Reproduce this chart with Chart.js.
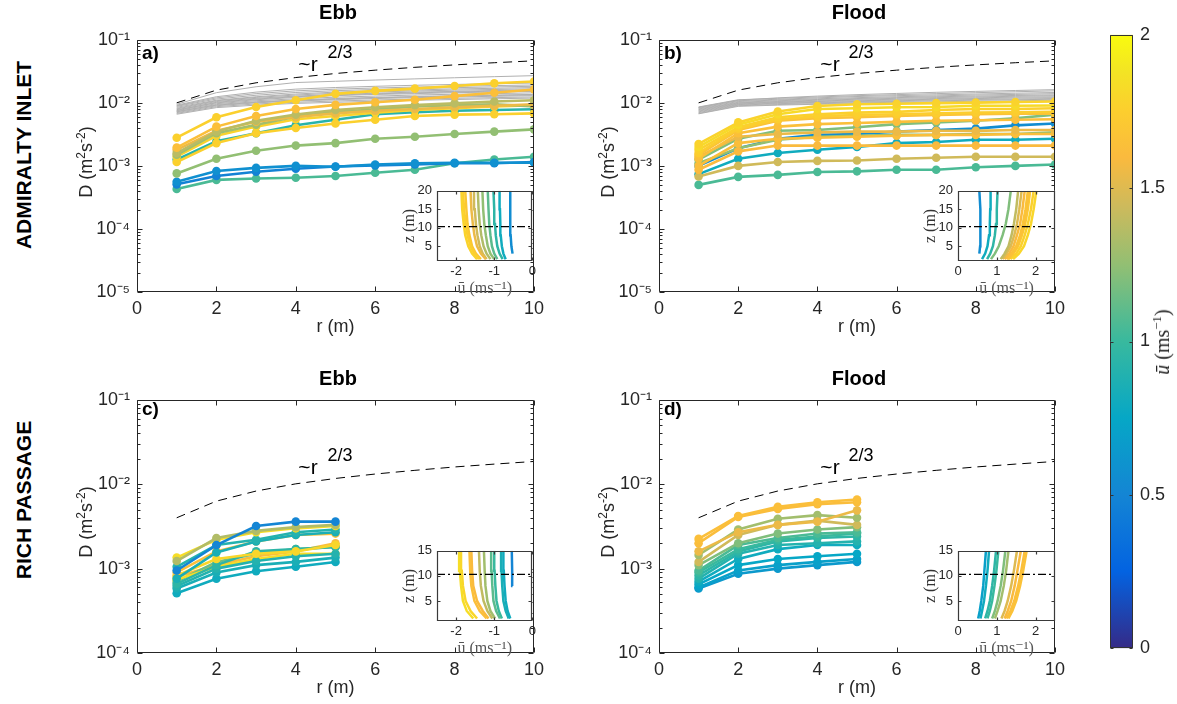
<!DOCTYPE html>
<html><head><meta charset="utf-8">
<script src="https://cdn.jsdelivr.net/npm/chart.js@4.4.1/dist/chart.umd.min.js"></script>
<style>
body{margin:0;background:#fff;width:1177px;height:704px;position:relative;overflow:hidden;font-family:'Liberation Sans',Arial,Helvetica,sans-serif;color:#000}
canvas{position:absolute}
.t{position:absolute;transform:translate(-50%,-50%);white-space:nowrap;line-height:1}
.b{font-weight:bold}
.rot{transform:translate(-50%,-50%) rotate(-90deg)}
.pl{position:absolute;transform:translateY(-50%);font-weight:bold;font-size:19px;line-height:1}
sup{font-size:12px;vertical-align:7px;line-height:0}
.yt{font-size:18px;color:#262626}
.cb sup{font-size:13px;vertical-align:8px}
</style></head><body>
<canvas id="cA" width="479" height="320" style="left:71px;top:22px"></canvas>
<canvas id="cB" width="478" height="320" style="left:593px;top:22px"></canvas>
<canvas id="cC" width="479" height="321" style="left:71px;top:382px"></canvas>
<canvas id="cD" width="478" height="321" style="left:593px;top:382px"></canvas>
<canvas id="iA" width="139" height="120" style="left:400px;top:178px"></canvas>
<canvas id="iB" width="140" height="120" style="left:921px;top:178px"></canvas>
<canvas id="iC" width="139" height="120" style="left:400px;top:538px"></canvas>
<canvas id="iD" width="140" height="120" style="left:921px;top:538px"></canvas>
<canvas id="cbar" width="77" height="649" style="left:1100px;top:17px"></canvas>

<div class="t b" style="left:338px;top:12px;font-size:20px">Ebb</div>
<div class="t b" style="left:859px;top:12px;font-size:20px">Flood</div>
<div class="t b" style="left:338px;top:378px;font-size:20px">Ebb</div>
<div class="t b" style="left:859px;top:378px;font-size:20px">Flood</div>
<div class="t b rot" style="left:23px;top:155px;font-size:21px">ADMIRALTY INLET</div>
<div class="t b rot" style="left:23px;top:500px;font-size:21px">RICH PASSAGE</div>
<div class="t rot yt" style="left:86px;top:162px">D (m<sup>2</sup>s<sup>-2</sup>)</div>
<div class="t rot yt" style="left:608px;top:162px">D (m<sup>2</sup>s<sup>-2</sup>)</div>
<div class="t rot yt" style="left:86px;top:522px">D (m<sup>2</sup>s<sup>-2</sup>)</div>
<div class="t rot yt" style="left:608px;top:522px">D (m<sup>2</sup>s<sup>-2</sup>)</div>
<div class="pl" style="left:142px;top:52px">a)</div>
<div class="pl" style="left:664px;top:52px">b)</div>
<div class="pl" style="left:142px;top:408px">c)</div>
<div class="pl" style="left:664px;top:408px">d)</div>
<div class="t" style="left:308px;top:63px;font-size:21px">~r</div>
<div class="t" style="left:340px;top:52px;font-size:18px">2/3</div>
<div class="t" style="left:830px;top:63px;font-size:21px">~r</div>
<div class="t" style="left:861px;top:52px;font-size:18px">2/3</div>
<div class="t" style="left:308px;top:466px;font-size:21px">~r</div>
<div class="t" style="left:340px;top:455px;font-size:18px">2/3</div>
<div class="t" style="left:830px;top:466px;font-size:21px">~r</div>
<div class="t" style="left:861px;top:455px;font-size:18px">2/3</div>
<div class="t rot cb" style="left:1162px;top:342px;font-size:20px;font-family:'Liberation Serif','DejaVu Serif',serif;color:#262626"><i>ū</i> (ms<sup>−1</sup>)</div>

<script>
// ---------- data ----------
const R_ADM = [1,2,3,4,5,6,7,8,9,10];
const R_RICH = [1,2,3,4,5];
const REF_ADM = [0.0100,0.0159,0.0208,0.0252,0.0292,0.0330,0.0366,0.0400,0.0433,0.0464];
const REF_RICH = [0.0040,0.0063,0.0083,0.0101,0.0117,0.0132,0.0146,0.0160,0.0173,0.0186];

const Y_TICKS_ADM = [1e-5,1e-4,1e-3,1e-2,1e-1];
const Y_LABELS_ADM = ['10⁻⁵','10⁻⁴','10⁻³','10⁻²','10⁻¹'];
const Y_TICKS_RICH = [1e-4,1e-3,1e-2,1e-1];
const Y_LABELS_RICH = ['10⁻⁴','10⁻³','10⁻²','10⁻¹'];

// gray lines (Admiralty, ebb)
const GRAY_A = [
 [0.0095,0.0145,0.0180,0.0210,0.0220,0.0230,0.0240,0.0250,0.0260,0.0270],
 [0.0092,0.0125,0.0148,0.0165,0.0175,0.0183,0.0190,0.0196,0.0201,0.0206],
 [0.0090,0.0120,0.0140,0.0155,0.0165,0.0172,0.0178,0.0183,0.0188,0.0192],
 [0.0088,0.0115,0.0132,0.0146,0.0156,0.0163,0.0169,0.0174,0.0179,0.0183],
 [0.0085,0.0110,0.0125,0.0138,0.0148,0.0155,0.0160,0.0166,0.0170,0.0175],
 [0.0082,0.0108,0.0122,0.0133,0.0142,0.0149,0.0154,0.0159,0.0163,0.0167],
 [0.0080,0.0105,0.0118,0.0128,0.0136,0.0142,0.0148,0.0152,0.0157,0.0160],
 [0.0078,0.0100,0.0112,0.0122,0.0130,0.0136,0.0140,0.0145,0.0148,0.0152],
 [0.0076,0.0102,0.0115,0.0125,0.0133,0.0139,0.0144,0.0149,0.0153,0.0156],
 [0.0075,0.0097,0.0108,0.0116,0.0123,0.0128,0.0133,0.0137,0.0140,0.0144],
 [0.0073,0.0092,0.0102,0.0109,0.0115,0.0120,0.0124,0.0128,0.0131,0.0134],
 [0.0072,0.0094,0.0104,0.0111,0.0117,0.0122,0.0126,0.0130,0.0133,0.0136],
 [0.0070,0.0090,0.0100,0.0107,0.0112,0.0117,0.0121,0.0124,0.0127,0.0130],
 [0.0068,0.0087,0.0096,0.0102,0.0107,0.0111,0.0115,0.0118,0.0121,0.0124],
 [0.0066,0.0084,0.0092,0.0098,0.0102,0.0106,0.0110,0.0113,0.0116,0.0119]
];
// gray lines (Admiralty, flood)
const GRAY_B = [
 [0.0086,0.0112,0.0118,0.0124,0.0130,0.0135,0.0140,0.0145,0.0150,0.0155],
 [0.0085,0.0110,0.0120,0.0128,0.0135,0.0141,0.0147,0.0152,0.0157,0.0162],
 [0.0084,0.0108,0.0114,0.0120,0.0126,0.0130,0.0134,0.0138,0.0142,0.0146],
 [0.0082,0.0105,0.0111,0.0116,0.0121,0.0125,0.0129,0.0133,0.0136,0.0140],
 [0.0080,0.0102,0.0108,0.0113,0.0117,0.0121,0.0125,0.0128,0.0131,0.0134],
 [0.0078,0.0100,0.0105,0.0110,0.0114,0.0118,0.0121,0.0124,0.0127,0.0130],
 [0.0076,0.0098,0.0103,0.0107,0.0111,0.0114,0.0117,0.0120,0.0123,0.0125],
 [0.0074,0.0096,0.0101,0.0105,0.0108,0.0111,0.0114,0.0117,0.0119,0.0121],
 [0.0072,0.0094,0.0099,0.0102,0.0105,0.0108,0.0111,0.0113,0.0115,0.0117],
 [0.0070,0.0092,0.0097,0.0100,0.0103,0.0105,0.0108,0.0110,0.0112,0.0114],
 [0.0068,0.0090,0.0094,0.0097,0.0100,0.0102,0.0104,0.0106,0.0108,0.0110],
 [0.0067,0.0088,0.0092,0.0095,0.0097,0.0099,0.0101,0.0102,0.0104,0.0106]
];

// coloured structure-function curves
const ADM_EBB = [
 [0.0028,0.0059,0.0086,0.0110,0.0139,0.0155,0.0168,0.0185,0.0204,0.0218],
 [0.00195,0.0042,0.0062,0.0080,0.0093,0.0102,0.0112,0.0128,0.0145,0.0163],
 [0.0016,0.0035,0.0052,0.0065,0.0077,0.0085,0.0092,0.0098,0.0105,0.0110],
 [0.0018,0.0036,0.0050,0.0060,0.0068,0.0075,0.0080,0.0085,0.0090,0.0095],
 [0.0015,0.0033,0.0045,0.0060,0.0072,0.0078,0.0088,0.0092,0.0095,0.0088],
 [0.0014,0.0030,0.0042,0.0055,0.0062,0.0070,0.0077,0.0082,0.0088,0.0092],
 [0.00115,0.0023,0.0033,0.0040,0.0047,0.0054,0.0062,0.0065,0.0066,0.0068],
 [0.00126,0.00245,0.0033,0.0044,0.0054,0.0066,0.0071,0.0075,0.0077,0.0079],
 [0.00076,0.0013,0.00174,0.0021,0.0023,0.0027,0.0029,0.0032,0.0035,0.0038],
 [0.00056,0.00083,0.00093,0.0010,0.00097,0.00105,0.0011,0.00112,0.00112,0.00112],
 [0.00051,0.00069,0.00081,0.0009,0.00098,0.00102,0.00105,0.0011,0.0011,0.00115],
 [0.00043,0.0006,0.00063,0.00065,0.00069,0.00078,0.00087,0.0011,0.00126,0.0014]
];
const ADM_EBB_SPEED = [1.76,1.64,1.38,1.55,1.3,1.78,1.76,0.92,1.25,0.58,0.48,1.05];

const ADM_FLOOD = [
 [0.00223,0.0049,0.0073,0.0089,0.0095,0.0097,0.0099,0.0101,0.0103,0.0105],
 [0.0020,0.0045,0.0066,0.0080,0.0082,0.0085,0.0086,0.0090,0.0090,0.0091],
 [0.0018,0.0041,0.0059,0.0066,0.0070,0.0072,0.0077,0.0080,0.0080,0.0082],
 [0.0016,0.0039,0.0055,0.0061,0.0064,0.0066,0.0068,0.0070,0.0071,0.0072],
 [0.0015,0.0037,0.0052,0.0057,0.0059,0.0062,0.0064,0.0066,0.0067,0.0067],
 [0.0013,0.0033,0.0042,0.0046,0.0048,0.0050,0.0052,0.0053,0.0054,0.0055],
 [0.0014,0.0029,0.0032,0.0034,0.0035,0.0035,0.0036,0.0036,0.0037,0.0037],
 [0.0010,0.0023,0.0027,0.0028,0.0029,0.0030,0.0031,0.0031,0.0032,0.0032],
 [0.00087,0.0017,0.0021,0.0021,0.0021,0.0021,0.0021,0.0021,0.0021,0.0021],
 [0.00068,0.0010,0.00115,0.0012,0.00122,0.0013,0.00135,0.0014,0.0014,0.0014],
 [0.00126,0.0027,0.0036,0.0037,0.0041,0.0046,0.0049,0.0052,0.0057,0.0065],
 [0.0011,0.0019,0.0026,0.0029,0.0030,0.0031,0.0031,0.0032,0.0032,0.0034],
 [0.0010,0.0019,0.0027,0.0031,0.0032,0.0035,0.0037,0.0039,0.0044,0.0047],
 [0.00074,0.0013,0.0016,0.0018,0.0020,0.0023,0.0024,0.0026,0.0026,0.0027],
 [0.0005,0.00067,0.00072,0.0008,0.00082,0.00087,0.00087,0.00095,0.0010,0.00105]
];
const ADM_FLOOD_SPEED = [1.78,1.82,1.76,1.74,1.66,1.64,1.55,1.63,1.6,1.45,1.2,1.25,0.55,0.8,1.05];

const RICH_EBB = [
 [0.00095,0.0019,0.0032,0.0036,0.0036],
 [0.00123,0.0023,0.0028,0.0031,0.0033],
 [0.00135,0.0022,0.0027,0.0030,0.0032],
 [0.00105,0.0019,0.0022,0.0027,0.0029],
 [0.00076,0.00155,0.0021,0.0025,0.0027],
 [0.0009,0.0016,0.0021,0.0025,0.0026],
 [0.00083,0.0013,0.0015,0.0016,0.0019],
 [0.00066,0.0011,0.0016,0.0017,0.0018],
 [0.00062,0.0010,0.00123,0.0014,0.0015],
 [0.00058,0.0009,0.0011,0.0012,0.00135],
 [0.00051,0.00076,0.00093,0.00105,0.0012],
 [0.00074,0.00105,0.0013,0.0015,0.0015],
 [0.0007,0.0012,0.0015,0.0017,0.0018],
 [0.0008,0.0011,0.0014,0.0016,0.0020]
];
const RICH_EBB_SPEED = [0.5,1.35,1.84,0.9,0.85,1.64,1.8,0.95,0.9,0.85,0.8,1.84,1.15,1.62];

const RICH_FLOOD = [
 [0.00225,0.0042,0.0054,0.0061,0.0066],
 [0.0020,0.0041,0.0051,0.0058,0.0061],
 [0.0016,0.0027,0.0033,0.0036,0.0049],
 [0.00145,0.0029,0.0039,0.0043,0.0040],
 [0.0012,0.0025,0.0033,0.0037,0.0033],
 [0.0011,0.0020,0.0026,0.0029,0.0031],
 [0.00095,0.0019,0.0023,0.0026,0.0027],
 [0.0009,0.0017,0.0022,0.0024,0.0026],
 [0.00083,0.0016,0.0021,0.0023,0.0024],
 [0.00076,0.0015,0.0019,0.0020,0.0021],
 [0.0007,0.0013,0.0017,0.0019,0.0019],
 [0.00065,0.0011,0.0013,0.0014,0.0015],
 [0.0006,0.00095,0.0011,0.0012,0.0013],
 [0.00058,0.00087,0.0010,0.0011,0.0012]
];
const RICH_FLOOD_SPEED = [1.64,1.62,1.55,1.3,1.45,1.2,1.05,1.0,0.95,0.9,0.8,0.75,0.7,0.65];

// inset velocity profiles
const Z_ADM = [1.5,3,5,8,11,15,20];
const Z_RICH = [1.5,3,5,8,11,15];
const HUB_Z = 10.3;
const PROF_ADM_EBB = [
 [-1.45,-1.58,-1.68,-1.76,-1.80,-1.84,-1.86],
 [-1.40,-1.52,-1.62,-1.70,-1.75,-1.79,-1.82],
 [-1.35,-1.48,-1.58,-1.65,-1.70,-1.73,-1.76],
 [-1.22,-1.35,-1.45,-1.52,-1.56,-1.60,-1.62],
 [-1.20,-1.30,-1.38,-1.44,-1.48,-1.51,-1.53],
 [-1.10,-1.20,-1.28,-1.34,-1.38,-1.41,-1.43],
 [-1.00,-1.10,-1.17,-1.22,-1.26,-1.29,-1.31],
 [-0.92,-1.00,-1.06,-1.10,-1.13,-1.15,-1.17],
 [-0.78,-0.86,-0.92,-0.96,-0.98,-1.00,-1.02],
 [-0.70,-0.76,-0.80,-0.83,-0.84,-0.85,-0.86],
 [null,-0.52,-0.55,-0.57,-0.58,-0.58,-0.58]
];
const PROF_ADM_EBB_SPEED = [1.78,1.75,1.7,1.55,1.45,1.35,1.25,1.1,0.95,0.8,0.55];
const PROF_ADM_FLOOD = [
 [null,0.55,0.57,0.58,0.58,0.57,0.55],
 [0.62,0.70,0.76,0.80,0.82,0.83,0.84],
 [0.75,0.83,0.90,0.95,0.98,1.00,1.02],
 [0.85,0.95,1.05,1.15,1.23,1.30,1.36],
 [1.10,1.20,1.30,1.38,1.44,1.50,1.55],
 [1.15,1.25,1.36,1.45,1.52,1.58,1.64],
 [1.20,1.32,1.43,1.52,1.60,1.66,1.72],
 [1.28,1.40,1.52,1.62,1.70,1.77,1.83],
 [1.25,1.38,1.50,1.60,1.67,1.74,1.80],
 [1.30,1.43,1.55,1.65,1.73,1.80,1.86],
 [1.35,1.50,1.62,1.72,1.80,1.88,1.95],
 [1.42,1.57,1.70,1.80,1.88,1.95,2.02]
];
const PROF_ADM_FLOOD_SPEED = [0.55,0.8,0.95,1.2,1.4,1.5,1.6,1.65,1.7,1.72,1.76,1.8];
const PROF_RICH_EBB = [
 [-1.55,-1.72,-1.82,-1.87,-1.90,-1.92],
 [-1.45,-1.62,-1.75,-1.82,-1.85,-1.87],
 [-1.20,-1.38,-1.52,-1.60,-1.63,-1.65],
 [-1.15,-1.30,-1.45,-1.55,-1.58,-1.60],
 [-1.05,-1.18,-1.28,-1.35,-1.38,-1.40],
 [-0.98,-1.10,-1.18,-1.23,-1.25,-1.27],
 [-0.85,-0.95,-1.02,-1.05,-1.07,-1.08],
 [-0.80,-0.88,-0.94,-0.97,-0.99,-1.00],
 [-0.62,-0.70,-0.76,-0.79,-0.81,-0.82],
 [-0.58,-0.65,-0.70,-0.73,-0.75,-0.76],
 [null,null,null,-0.52,-0.53,-0.54]
];
const PROF_RICH_EBB_SPEED = [1.84,1.8,1.64,1.6,1.4,1.3,1.1,1.0,0.85,0.8,0.5];
const PROF_RICH_FLOOD = [
 [0.52,0.56,0.60,0.65,0.68,0.72],
 [0.58,0.62,0.67,0.72,0.76,0.80],
 [0.70,0.76,0.82,0.88,0.93,0.98],
 [0.76,0.82,0.88,0.94,0.99,1.04],
 [0.88,0.95,1.02,1.10,1.16,1.22],
 [0.95,1.02,1.10,1.18,1.24,1.30],
 [1.12,1.20,1.28,1.37,1.44,1.52],
 [1.20,1.28,1.37,1.46,1.53,1.62],
 [1.25,1.35,1.45,1.55,1.63,1.72],
 [1.30,1.40,1.50,1.60,1.68,1.77]
];
const PROF_RICH_FLOOD_SPEED = [0.7,0.8,0.95,1.0,1.2,1.3,1.5,1.6,1.64,1.66];

const CBAR_TICKS = [0,0.5,1,1.5,2];
const CBAR_TICK_LABELS = ['0','0.5','1','1.5','2'];
const SPEED_MAX = 2;

// ---------- style helpers ----------
const PARULA = [[0,[53,42,135]],[0.125,[3,99,225]],[0.25,[20,133,212]],[0.375,[6,167,198]],
 [0.5,[56,185,158]],[0.625,[146,191,115]],[0.72,[205,186,92]],[0.8,[250,186,62]],
 [0.875,[252,206,46]],[0.94,[243,228,36]],[1,[249,251,14]]];
function parula(t){
  t=Math.max(0,Math.min(1,t));
  for(let i=1;i<PARULA.length;i++){
    if(t<=PARULA[i][0]){const [t0,c0]=PARULA[i-1],[t1,c1]=PARULA[i];const f=(t-t0)/(t1-t0);
      return 'rgb('+c0.map((c,k)=>Math.round(c+(c1[k]-c)*f)).join(',')+')';}
  }
  return 'rgb(249,251,14)';
}
const INK='#262626';
Chart.defaults.font.family="'Liberation Sans', Arial, Helvetica, sans-serif";
Chart.defaults.color=INK;
Chart.defaults.animation=false;

const boxPlugin={
  id:'box',
  beforeDatasetsDraw(chart,args,o){
    if(o.fill){const a=chart.chartArea,c=chart.ctx;c.save();c.fillStyle=o.fill;c.fillRect(a.left,a.top,a.right-a.left,a.bottom-a.top);c.restore();}
  },
  afterDraw(chart,args,o){
    const c=chart.ctx,a=chart.chartArea,x=chart.scales.x,y=chart.scales.y;
    c.save();c.strokeStyle=o.color||INK;c.lineWidth=o.lw||1;
    const L=o.len||5,Lm=o.minor||3;
    const l=Math.round(a.left)+0.5,r=Math.round(a.right)-0.5,t=Math.round(a.top)+0.5,b=Math.round(a.bottom)-0.5;
    c.beginPath();c.rect(l,t,r-l,b-t);
    if(!o.noX){x.ticks.forEach(tk=>{const p=Math.round(x.getPixelForValue(tk.value))+0.5;c.moveTo(p,b);c.lineTo(p,b-L);c.moveTo(p,t);c.lineTo(p,t+L);});}
    y.ticks.forEach(tk=>{const p=Math.round(y.getPixelForValue(tk.value))+0.5;c.moveTo(l,p);c.lineTo(l+L,p);c.moveTo(r,p);c.lineTo(r-L,p);});
    if(y.type==='logarithmic'){
      const e0=Math.round(Math.log10(y.min)),e1=Math.round(Math.log10(y.max));
      for(let e=e0;e<e1;e++)for(let k=2;k<10;k++){const p=Math.round(y.getPixelForValue(k*Math.pow(10,e)))+0.5;c.moveTo(l,p);c.lineTo(l+Lm,p);c.moveTo(r,p);c.lineTo(r-Lm,p);}
    }
    c.stroke();c.restore();
  }
};

function pts(xs,ys){return xs.map((x,i)=>({x:x,y:ys[i]}));}
function ptsProf(us,zs){return zs.map((z,i)=>({x:us[i],y:z}));}

function mainChart(id,R,series,speeds,gray,ref,yTicks,yLabels){
  const ds=[];
  ds.push({data:pts(R_ADM,ref),borderColor:'#000',borderWidth:1,borderDash:[9,6],pointRadius:0,order:0});
  series.forEach((s,k)=>{const col=parula(speeds[k]/SPEED_MAX);
    ds.push({data:pts(R,s),borderColor:col,backgroundColor:col,borderWidth:2.6,pointRadius:4.3,pointBorderWidth:0,order:1});});
  gray.forEach(g=>ds.push({data:pts(R_ADM,g),borderColor:'#b0b0b0',borderWidth:1,pointRadius:0,order:2}));
  return new Chart(document.getElementById(id),{
    type:'line',data:{datasets:ds},plugins:[boxPlugin],
    options:{responsive:false,events:[],
      layout:{padding:{top:12,right:12,left:0,bottom:0}},
      plugins:{legend:{display:false},tooltip:{enabled:false},box:{len:5,minor:3}},
      scales:{
        x:{type:'linear',min:0,max:10,ticks:{stepSize:2,padding:6,font:{size:18}},
          grid:{display:false,drawTicks:false},border:{display:false},
          title:{display:true,text:'r (m)',font:{size:18},padding:{top:0,bottom:4}},
          afterFit:s=>{s.height=50;}},
        y:{type:'logarithmic',min:yTicks[0],max:yTicks[yTicks.length-1],
          afterBuildTicks:s=>{s.ticks=yTicks.map(v=>({value:v}));},
          ticks:{padding:7,font:{size:18},callback:(v,i)=>yLabels[i]},
          grid:{display:false,drawTicks:false},border:{display:false},
          afterFit:s=>{s.width=66;}}
      }}
  });
}

function insetChart(id,profiles,speeds,zs,xmin,xmax,xticks,yticks){
  const ds=[];
  ds.push({data:[{x:xmin,y:HUB_Z},{x:xmax,y:HUB_Z}],borderColor:'#000',borderWidth:1.3,borderDash:[8,3,2,3],pointRadius:0,order:0});
  profiles.forEach((p,k)=>{ds.push({data:ptsProf(p,zs),borderColor:parula(speeds[k]/SPEED_MAX),borderWidth:2.5,pointRadius:0,order:1});});
  return new Chart(document.getElementById(id),{
    type:'line',data:{datasets:ds},plugins:[boxPlugin],
    options:{responsive:false,events:[],
      layout:{padding:{top:8,right:6,left:0,bottom:0}},
      plugins:{legend:{display:false},tooltip:{enabled:false},box:{fill:'#fff',len:3,lw:1.2,color:'#3a3a3a'}},
      scales:{
        x:{type:'linear',min:xmin,max:xmax,afterBuildTicks:s=>{s.ticks=xticks.map(v=>({value:v}));},
          ticks:{padding:3,font:{size:13}},
          grid:{display:false,drawTicks:false},border:{display:false},
          title:{display:true,text:'ū (ms⁻¹)',font:{size:16,family:"'Liberation Serif','DejaVu Serif',serif"},color:'#555',padding:{top:0,bottom:0}},
          afterFit:s=>{s.height=37;}},
        y:{type:'linear',min:1,max:yticks[yticks.length-1],afterBuildTicks:s=>{s.ticks=yticks.map(v=>({value:v}));},
          ticks:{padding:5,font:{size:13}},
          grid:{display:false,drawTicks:false},border:{display:false},
          title:{display:true,text:'z (m)',font:{size:16,family:"'Liberation Serif','DejaVu Serif',serif"},color:'#333',padding:{top:0,bottom:0}},
          afterFit:s=>{s.width=37;}}
      }}
  });
}

mainChart('cA',R_ADM,ADM_EBB,ADM_EBB_SPEED,GRAY_A,REF_ADM,Y_TICKS_ADM,Y_LABELS_ADM);
mainChart('cB',R_ADM,ADM_FLOOD,ADM_FLOOD_SPEED,GRAY_B,REF_ADM,Y_TICKS_ADM,Y_LABELS_ADM);
mainChart('cC',R_RICH,RICH_EBB,RICH_EBB_SPEED,[],REF_RICH,Y_TICKS_RICH,Y_LABELS_RICH);
mainChart('cD',R_RICH,RICH_FLOOD,RICH_FLOOD_SPEED,[],REF_RICH,Y_TICKS_RICH,Y_LABELS_RICH);

insetChart('iA',PROF_ADM_EBB,PROF_ADM_EBB_SPEED,Z_ADM,-2.5,0,[-2,-1,0],[5,10,15,20]);
insetChart('iB',PROF_ADM_FLOOD,PROF_ADM_FLOOD_SPEED,Z_ADM,0,2.5,[0,1,2],[5,10,15,20]);
insetChart('iC',PROF_RICH_EBB,PROF_RICH_EBB_SPEED,Z_RICH,-2.5,0,[-2,-1,0],[5,10,15]);
insetChart('iD',PROF_RICH_FLOOD,PROF_RICH_FLOOD_SPEED,Z_RICH,0,2.5,[0,1,2],[5,10,15]);

new Chart(document.getElementById('cbar'),{
  type:'bar',
  data:{labels:[''],datasets:[{data:[[CBAR_TICKS[0],CBAR_TICKS[CBAR_TICKS.length-1]]],
    backgroundColor:ctx=>{const ch=ctx.chart,a=ch.chartArea;if(!a)return '#888';
      const g=ch.ctx.createLinearGradient(0,a.bottom,0,a.top);PARULA.forEach(([t,c])=>g.addColorStop(t,'rgb('+c.join(',')+')'));return g;},
    barPercentage:1,categoryPercentage:1,borderWidth:0}]},
  plugins:[boxPlugin],
  options:{responsive:false,events:[],
    layout:{padding:{left:10,top:10,bottom:10,right:0}},
    plugins:{legend:{display:false},tooltip:{enabled:false},box:{noX:true,len:3,color:'#333'}},
    scales:{x:{display:false},
      y:{position:'right',min:0,max:2,afterBuildTicks:s=>{s.ticks=CBAR_TICKS.map(v=>({value:v}));},
        ticks:{padding:7,font:{size:18},callback:(v,i)=>CBAR_TICK_LABELS[i]},
        grid:{display:false,drawTicks:false},border:{display:false},afterFit:s=>{s.width=44;}}}}
});
</script>
</body></html>
